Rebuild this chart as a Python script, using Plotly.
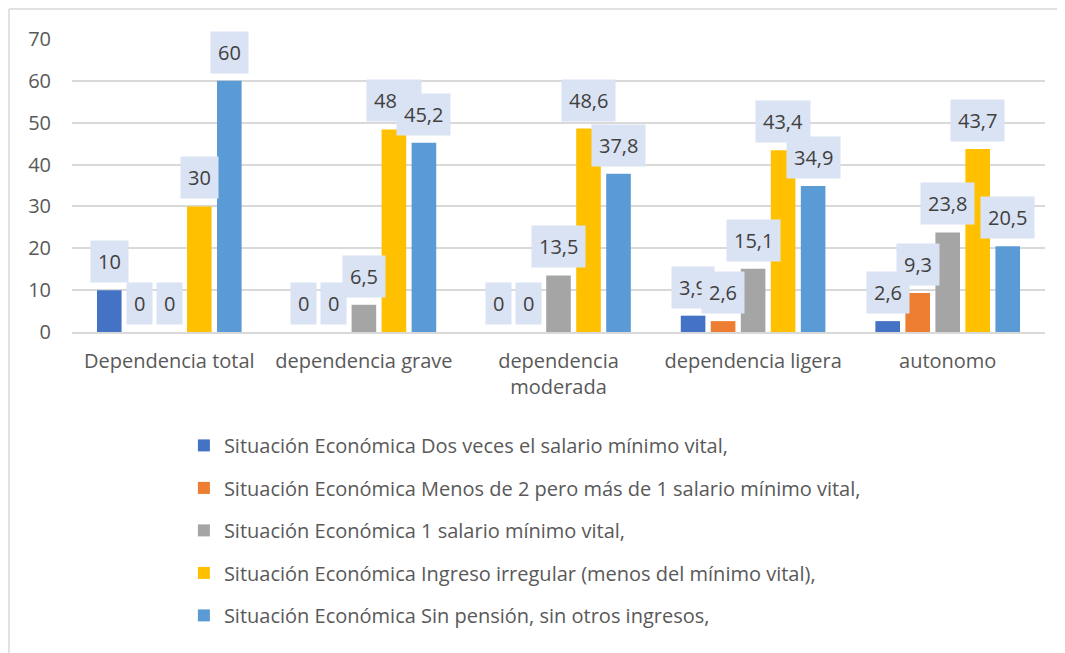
import plotly.graph_objects as go

categories = ["Dependencia total", "dependencia grave", "dependencia<br>moderada",
              "dependencia ligera", "autonomo"]

series_names = [
    "Situación Económica Dos veces el salario mínimo vital,",
    "Situación Económica Menos de 2 pero más de 1 salario mínimo vital,",
    "Situación Económica 1 salario mínimo vital,",
    "Situación Económica Ingreso irregular (menos del mínimo vital),",
    "Situación Económica Sin pensión, sin otros ingresos,",
]
dos_veces = [10, 0, 0, 3.9, 2.6]
menos_de_2 = [0, 0, 0, 2.6, 9.3]
un_salario = [0, 6.5, 13.5, 15.1, 23.8]
irregular = [30, 48.4, 48.6, 43.4, 43.7]
sin_pension = [60, 45.2, 37.8, 34.9, 20.5]
series_values = [dos_veces, menos_de_2, un_salario, irregular, sin_pension]
colors = ["#4472C4", "#ED7D31", "#A5A5A5", "#FFC000", "#5B9BD5"]
y_ticks = [0, 10, 20, 30, 40, 50, 60, 70]

FONT = "Open Sans"
FS = 20
TEXT = "#595959"
BARGAP = 0.229
GROUPGAP = 0.18

fig = go.Figure()
for i, (name, vals, col) in enumerate(zip(series_names, series_values, colors)):
    fig.add_trace(go.Bar(
        x=list(range(len(categories))), y=vals, name=name,
        marker=dict(color=col, line=dict(width=0)),
        legendgroup=f"g{i}",
    ))

def fmt(v):
    s = f"{v:g}"
    return s.replace(".", ",")

n = len(series_values)
slot = (1 - BARGAP) / n
annotations = []
for i, vals in enumerate(series_values):
    off = (i - (n - 1) / 2) * slot
    for c, v in enumerate(vals):
        annotations.append(dict(
            x=c + off, y=v, xref="x", yref="y",
            text=fmt(v), showarrow=False, yanchor="bottom", yshift=7,
            bgcolor="#DAE3F3", borderpad=7,
            font=dict(family=FONT, size=FS, color="#404040"),
        ))

bx0 = -64 / 973 + 0.001
by1 = 1 + 31 / 293 - 0.003
border = dict(color="#D9D9D9", width=1.5)
fig.update_layout(
    width=1057, height=645,
    margin=dict(l=64, r=20, t=31, b=321),
    paper_bgcolor="white", plot_bgcolor="white",
    barmode="group", bargap=BARGAP, bargroupgap=GROUPGAP,
    font=dict(family=FONT, size=FS, color=TEXT),
    showlegend=True,
    legend=dict(
        orientation="v", x=0.115, xanchor="left", y=-0.3205, yanchor="top",
        font=dict(family=FONT, size=FS, color=TEXT),
        tracegroupgap=13.5, itemclick=False,
    ),
    annotations=annotations,
    shapes=[
        dict(type="line", xref="paper", yref="paper", x0=bx0, x1=1.03, y0=by1, y1=by1,
             line=border, layer="below"),
        dict(type="line", xref="paper", yref="paper", x0=bx0, x1=bx0, y0=-1.1, y1=by1,
             line=border, layer="below"),
    ],
)
fig.update_xaxes(
    tickmode="array", tickvals=list(range(len(categories))), ticktext=categories,
    range=[-0.5, len(categories) - 0.5],
    showgrid=False, showline=True, linecolor="#D9D9D9", linewidth=1.5,
    ticks="", ticklabelstandoff=10,
    tickfont=dict(family=FONT, size=FS, color=TEXT),
)
fig.update_yaxes(
    range=[0, 70], tickvals=y_ticks, showgrid=True, gridcolor="#D9D9D9", gridwidth=1.5,
    zeroline=False, showline=False, ticks="", ticklabelstandoff=20,
    tickfont=dict(family=FONT, size=FS, color=TEXT),
)

fig.write_html("out.html")
